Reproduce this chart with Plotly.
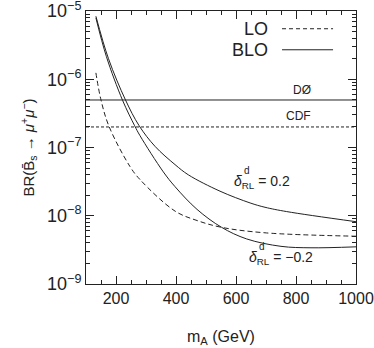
import math
import plotly.graph_objects as go

# ---- data ----
blo_up_x = [133, 175, 231.7, 277, 330, 396.7, 441, 546.7, 647, 696.7, 769, 1000]
blo_up_y = [8.39e-6, 2.0e-6, 4.97e-7, 2.09e-7, 1.04e-7, 5.62e-8, 3.98e-8, 2.29e-8, 1.54e-8, 1.33e-8, 1.15e-8, 8.18e-9]

blo_dn_x = [133, 168, 221.7, 262, 280, 357.8, 396.7, 470, 552, 635.6, 750, 850, 1000]
blo_dn_y = [7.94e-6, 2.15e-6, 4.94e-7, 2.09e-7, 1.49e-7, 4.39e-8, 2.67e-8, 1.24e-8, 6.76e-9, 4.57e-9, 3.56e-9, 3.39e-9, 3.50e-9]

lo_x = [133, 150, 176.7, 246.7, 280, 396.7, 470, 552, 696.7, 1000]
lo_y = [1.24e-6, 4.97e-7, 2.04e-7, 5.25e-8, 3.39e-8, 1.17e-8, 8.51e-9, 6.76e-9, 5.62e-9, 5.01e-9]

limit_names = ["DØ", "CDF"]
limit_values = [4.97e-7, 2.0e-7]
x_span = [100, 1000]

x_ticks = [200, 400, 600, 800, 1000]
x_minor = [150, 250, 300, 350, 450, 500, 550, 650, 700, 750, 850, 900, 950]
y_major = [1e-9, 1e-8, 1e-7, 1e-6, 1e-5]
y_ticktext = ["10<sup>−9</sup>", "10<sup>−8</sup>", "10<sup>−7</sup>", "10<sup>−6</sup>", "10<sup>−5</sup>"]
y_minor = [m * 10.0 ** e for e in range(-9, -5) for m in range(2, 10)]

FONT = "Liberation Sans"
LC = "#222"

fig = go.Figure()
fig.add_trace(go.Scatter(x=blo_up_x, y=blo_up_y, mode="lines",
                         line=dict(color=LC, width=1, shape="spline"), showlegend=False))
fig.add_trace(go.Scatter(x=blo_dn_x, y=blo_dn_y, mode="lines",
                         line=dict(color=LC, width=1, shape="spline"), showlegend=False))
fig.add_trace(go.Scatter(x=lo_x, y=lo_y, mode="lines",
                         line=dict(color=LC, width=1, shape="spline", dash="5px,3px"), showlegend=False))
fig.add_trace(go.Scatter(x=x_span, y=[limit_values[0]] * 2, mode="lines",
                         line=dict(color=LC, width=1), showlegend=False))
fig.add_trace(go.Scatter(x=x_span, y=[limit_values[1]] * 2, mode="lines",
                         line=dict(color=LC, width=1, dash="3px,2px"), showlegend=False))

ann = []
# limit labels
ann.append(dict(x=0.84, y=math.log10(limit_values[0]), xref="paper", yref="y", text=limit_names[0],
                showarrow=False, yanchor="bottom", yshift=1, font=dict(size=12, color=LC, family=FONT)))
ann.append(dict(x=0.84, y=math.log10(limit_values[1]), xref="paper", yref="y", text=limit_names[1],
                showarrow=False, yanchor="bottom", yshift=2, font=dict(size=12, color=LC, family=FONT)))
# legend
ann.append(dict(x=0.682, y=0.935, xref="paper", yref="paper", text="LO", showarrow=False,
                xanchor="right", yanchor="middle", font=dict(size=18, color=LC, family=FONT)))
ann.append(dict(x=0.682, y=0.858, xref="paper", yref="paper", text="BLO", showarrow=False,
                xanchor="right", yanchor="middle", font=dict(size=18, color=LC, family=FONT)))
# delta labels
ann.append(dict(x=0.542, y=0.372, xref="paper", yref="paper",
                text="<i>δ</i><sub>RL</sub> = 0.2", showarrow=False,
                xanchor="left", yanchor="middle", font=dict(size=14, color=LC, family=FONT)))
ann.append(dict(x=0.542, y=0.415, xref="paper", yref="paper", text="d", showarrow=False,
                xanchor="left", yanchor="middle", xshift=10, font=dict(size=10, color=LC, family=FONT)))
ann.append(dict(x=0.597, y=0.095, xref="paper", yref="paper",
                text="<i>δ</i><sub>RL</sub> = −0.2", showarrow=False,
                xanchor="left", yanchor="middle", font=dict(size=14, color=LC, family=FONT)))
ann.append(dict(x=0.597, y=0.138, xref="paper", yref="paper", text="d", showarrow=False,
                xanchor="left", yanchor="middle", xshift=10, font=dict(size=10, color=LC, family=FONT)))

shapes = [
    dict(type="line", xref="paper", yref="paper", x0=0.726, x1=0.915, y0=0.935, y1=0.935,
         line=dict(color=LC, width=1, dash="4px,3px")),
    dict(type="line", xref="paper", yref="paper", x0=0.726, x1=0.915, y0=0.858, y1=0.858,
         line=dict(color=LC, width=1)),
]

fig.update_layout(
    width=374, height=348,
    margin=dict(l=86, r=18, t=11, b=64),
    paper_bgcolor="white", plot_bgcolor="white",
    font=dict(family=FONT, color=LC),
    annotations=ann, shapes=shapes, showlegend=False,
)
fig.update_xaxes(
    range=[100, 1000], tickmode="array", tickvals=x_ticks, ticks="inside", ticklen=8,
    tickcolor=LC, showline=True, linecolor=LC, linewidth=1, mirror="ticks", showgrid=False,
    zeroline=False, tickfont=dict(size=16, color=LC), automargin=False, ticklabeloverflow="allow",
    minor=dict(tickmode="array", tickvals=x_minor, ticks="inside", ticklen=4, tickcolor=LC, showgrid=False),
    title=dict(text="m<sub>A</sub> (GeV)", font=dict(size=16, color=LC), standoff=24),
)
fig.update_yaxes(
    type="log", range=[-9.0005, -4.9995], tickmode="array", tickvals=y_major, ticktext=y_ticktext,
    ticks="inside", ticklen=8, tickcolor=LC, showline=True, linecolor=LC, linewidth=1,
    mirror="ticks", showgrid=False, zeroline=False, tickfont=dict(size=18, color=LC), automargin=False,
    ticklabeloverflow="allow",
    minor=dict(tickmode="array", tickvals=y_minor, ticks="inside", ticklen=4, tickcolor=LC, showgrid=False),
    title=dict(text="BR(B\u0304<sub>s</sub> → <i>μ</i><sup>+</sup><i>μ</i><sup>−</sup>)",
               font=dict(size=15, color=LC), standoff=8),
)

fig.write_html("out.html", config={"displayModeBar": False},
               post_script="document.body.style.margin='0';")
